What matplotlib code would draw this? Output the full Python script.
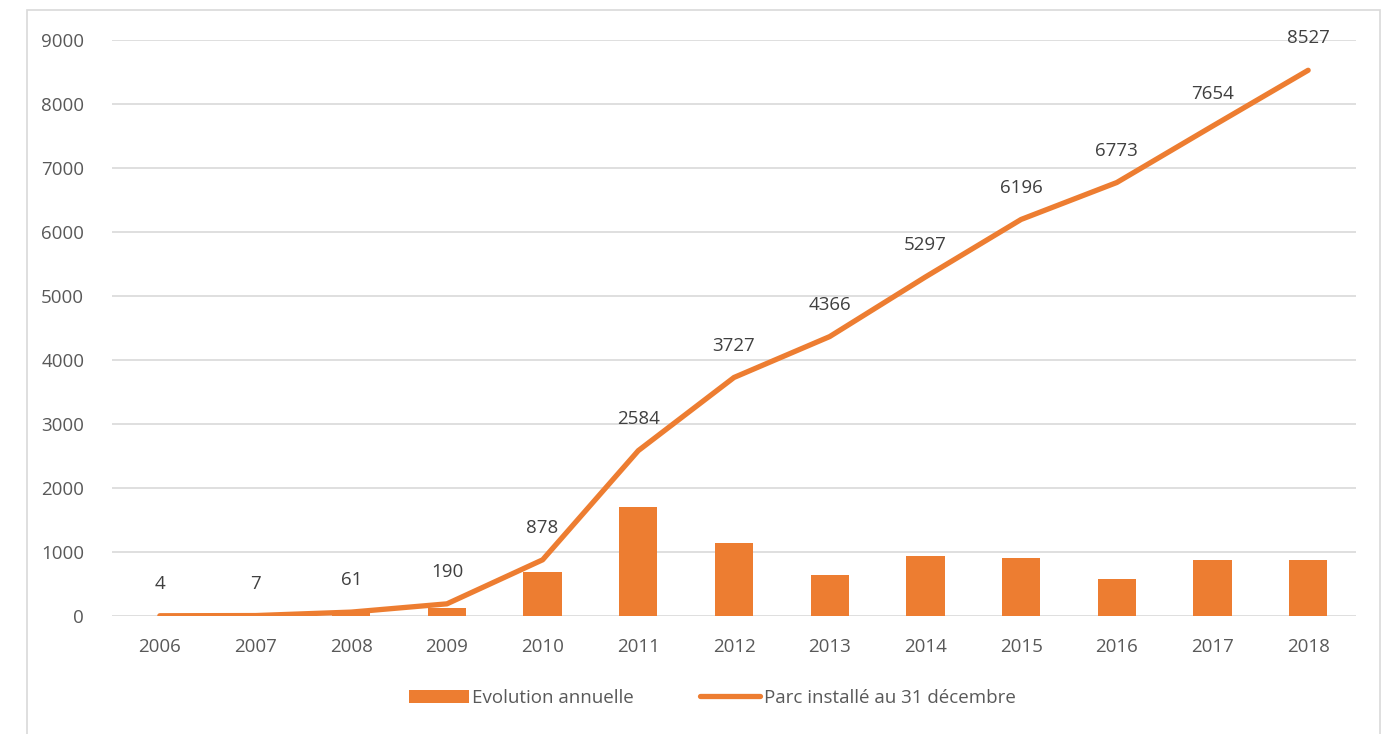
import numpy as np
import matplotlib.pyplot as plt
from matplotlib.patches import Rectangle

# Données
annees = ['2006', '2007', '2008', '2009', '2010', '2011', '2012',
          '2013', '2014', '2015', '2016', '2017', '2018']
evolution = [4, 3, 54, 129, 688, 1706, 1143, 639, 931, 899, 577, 881, 873]
parc = [4, 7, 61, 190, 878, 2584, 3727, 4366, 5297, 6196, 6773, 7654, 8527]
yticks = [0, 1000, 2000, 3000, 4000, 5000, 6000, 7000, 8000, 9000]

orange = '#ED7D31'
gris = '#595959'
plt.rcParams['font.family'] = ['Open Sans', 'DejaVu Sans']

fig = plt.figure(figsize=(13.89, 7.34), dpi=100)
fig.patch.set_facecolor('white')
# cadre du graphique
fig.patches.append(Rectangle((27/1389, -0.05), 1353/1389, 1.05 - 10/734,
                             transform=fig.transFigure, fill=False,
                             edgecolor='#D9D9D9', lw=1.2))

ax = fig.add_axes([112/1389, 1 - 616/734, (1356-112)/1389, (616-40)/734])
x = np.arange(len(annees))

barres = ax.bar(x, evolution, width=0.4, color=orange, label='Evolution annuelle', zorder=2)
ligne, = ax.plot(x, parc, color=orange, lw=3.8, solid_capstyle='round',
                 label='Parc installé au 31 décembre', zorder=3)

for xi, v in zip(x, parc):
    ax.annotate(str(v), (xi, v), xytext=(0, 23), textcoords='offset points',
                ha='center', va='center', fontsize=13.5, color='#404040')

ax.set_xlim(-0.5, len(annees) - 0.5)
ax.set_ylim(0, 9000)
ax.set_yticks(yticks)
ax.set_xticks(x)
ax.set_xticklabels(annees)
ax.grid(axis='y', color='#D9D9D9', lw=1.2, zorder=0)
ax.tick_params(length=0, labelsize=13.5, labelcolor=gris)
ax.tick_params(axis='x', pad=16)
ax.tick_params(axis='y', pad=20)
for s in ax.spines.values():
    s.set_visible(False)
ax.set_facecolor('none')

leg = fig.legend([barres, ligne], ['Evolution annuelle', 'Parc installé au 31 décembre'],
                 loc='center', bbox_to_anchor=(712/1389, 1 - 698/734), ncol=2,
                 frameon=False, fontsize=13.5, handlelength=3.2,
                 columnspacing=3.5, handletextpad=0.2)
for t in leg.get_texts():
    t.set_color(gris)

fig.savefig('out.png', dpi=100)
